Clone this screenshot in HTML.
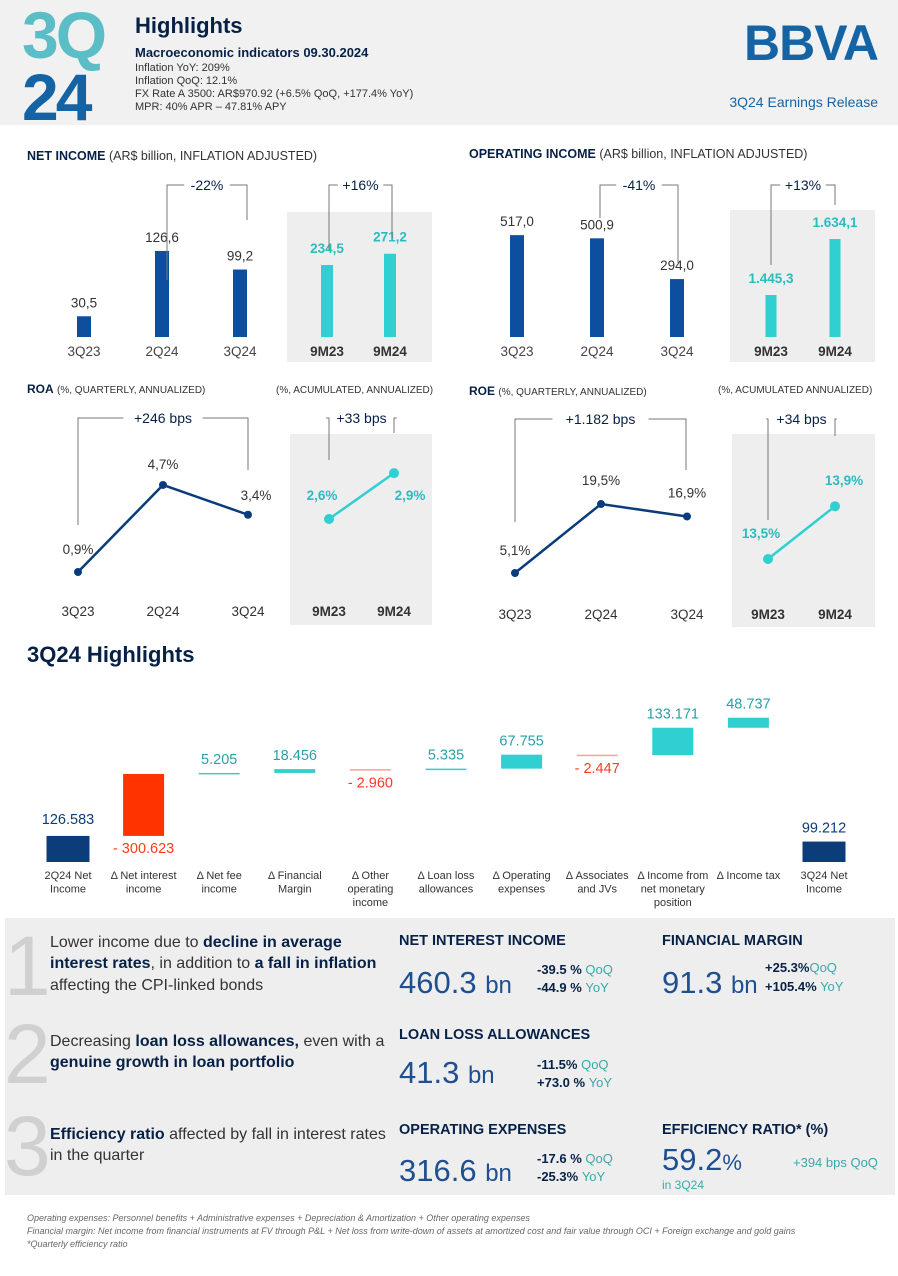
<!DOCTYPE html>
<html><head><meta charset="utf-8"><style>
html,body{margin:0;padding:0;background:#fff}
svg{display:block}
text{font-family:"Liberation Sans Narrow","Liberation Sans",sans-serif}
</style></head><body>
<svg id="page" width="898" height="1276" viewBox="0 0 898 1276">
<rect x="0" y="0" width="898" height="125" fill="#f1f1f1"/>
<text x="22" y="58" font-size="66" font-weight="bold" fill="#5bbec6" font-family="Liberation Sans" letter-spacing="-3">3Q</text>
<text x="22" y="120" font-size="66" font-weight="bold" fill="#1464a5" font-family="Liberation Sans" letter-spacing="-3">24</text>
<text x="135" y="33" font-size="22" font-weight="bold" fill="#072146" font-family="Liberation Sans">Highlights</text>
<text x="135" y="57" font-size="13" font-weight="bold" fill="#072146" font-family="Liberation Sans">Macroeconomic indicators 09.30.2024</text>
<g font-size="11" fill="#333" font-family="Liberation Sans">
<text x="135" y="71">Inflation YoY: 209%</text>
<text x="135" y="84">Inflation QoQ: 12.1%</text>
<text x="135" y="97">FX Rate A 3500: AR$970.92 (+6.5% QoQ, +177.4% YoY)</text>
<text x="135" y="110">MPR: 40% APR – 47.81% APY</text>
</g>
<text x="878" y="60" text-anchor="end" font-size="50" font-weight="bold" fill="#1464a5" font-family="Liberation Sans" letter-spacing="-1">BBVA</text>
<text x="878" y="107" text-anchor="end" font-size="14" fill="#1464a5" font-family="Liberation Sans">3Q24 Earnings Release</text>

<text x="27" y="160" font-size="12.5" fill="#333"><tspan font-weight="bold" fill="#072146">NET INCOME</tspan> (AR$ billion, INFLATION ADJUSTED)</text>
<text x="469" y="158" font-size="12.5" fill="#333"><tspan font-weight="bold" fill="#072146">OPERATING INCOME</tspan> (AR$ billion, INFLATION ADJUSTED)</text>
<text x="27" y="393" font-size="12" fill="#333"><tspan font-weight="bold" fill="#072146">ROA</tspan> <tspan font-size="10">(%, QUARTERLY, ANNUALIZED)</tspan></text>
<text x="276" y="393" font-size="10" fill="#333">(%, ACUMULATED, ANNUALIZED)</text>
<text x="469" y="395" font-size="12" fill="#333"><tspan font-weight="bold" fill="#072146">ROE</tspan> <tspan font-size="10">(%, QUARTERLY, ANNUALIZED)</tspan></text>
<text x="718" y="393" font-size="10" fill="#333">(%, ACUMULATED ANNUALIZED)</text>

<rect x="287" y="212" width="145" height="150" fill="#eeeeee"/>
<rect x="730" y="210" width="145" height="152" fill="#eeeeee"/>
<rect x="290" y="434" width="142" height="191" fill="#eeeeee"/>
<rect x="732" y="434" width="143" height="193" fill="#eeeeee"/>

<g id="charts"></g>

<text x="27" y="662" font-size="22" font-weight="bold" fill="#072146" font-family="Liberation Sans">3Q24 Highlights</text>
<g id="waterfall"></g>

<rect x="5" y="918" width="890" height="277" fill="#eeeeee"/>
<g font-family="Liberation Sans" font-size="84" fill="#d0d0d0" font-weight="normal">
<text x="4" y="995">1</text><text x="4" y="1083">2</text><text x="4" y="1175">3</text>
</g>
<g font-size="16" fill="#333">
<text x="50" y="947">Lower income due to <tspan font-weight="bold" fill="#072146">decline in average</tspan></text>
<text x="50" y="968"><tspan font-weight="bold" fill="#072146">interest rates</tspan>, in addition to <tspan font-weight="bold" fill="#072146">a fall in inflation</tspan></text>
<text x="50" y="990">affecting the CPI-linked bonds</text>
<text x="50" y="1046">Decreasing <tspan font-weight="bold" fill="#072146">loan loss allowances,</tspan> even with a</text>
<text x="50" y="1067"><tspan font-weight="bold" fill="#072146">genuine growth in loan portfolio</tspan></text>
<text x="50" y="1139"><tspan font-weight="bold" fill="#072146">Efficiency ratio</tspan> affected by fall in interest rates</text>
<text x="50" y="1160">in the quarter</text>
</g>
<g font-size="14.5" font-weight="bold" fill="#072146">
<text x="399" y="945">NET INTEREST INCOME</text>
<text x="662" y="945">FINANCIAL MARGIN</text>
<text x="399" y="1039">LOAN LOSS ALLOWANCES</text>
<text x="399" y="1134">OPERATING EXPENSES</text>
<text x="662" y="1134">EFFICIENCY RATIO* (%)</text>
</g>
<g font-size="31" fill="#1d4f91">
<text x="399" y="993">460.3 <tspan font-size="24">bn</tspan></text>
<text x="662" y="993">91.3 <tspan font-size="24">bn</tspan></text>
<text x="399" y="1083">41.3 <tspan font-size="24">bn</tspan></text>
<text x="399" y="1181">316.6 <tspan font-size="24">bn</tspan></text>
<text x="662" y="1170">59.2<tspan font-size="22">%</tspan></text>
</g>
<g font-size="13" font-weight="bold" fill="#072146">
<text x="537" y="974">-39.5 % <tspan font-weight="normal" fill="#3aa8a8">QoQ</tspan></text>
<text x="537" y="992">-44.9 % <tspan font-weight="normal" fill="#3aa8a8"> YoY</tspan></text>
<text x="765" y="972">+25.3%<tspan font-weight="normal" fill="#3aa8a8">QoQ</tspan></text>
<text x="765" y="991">+105.4%<tspan font-weight="normal" fill="#3aa8a8"> YoY</tspan></text>
<text x="537" y="1069">-11.5% <tspan font-weight="normal" fill="#3aa8a8"> QoQ</tspan></text>
<text x="537" y="1087">+73.0 % <tspan font-weight="normal" fill="#3aa8a8">YoY</tspan></text>
<text x="537" y="1163">-17.6 % <tspan font-weight="normal" fill="#3aa8a8">QoQ</tspan></text>
<text x="537" y="1181">-25.3% <tspan font-weight="normal" fill="#3aa8a8"> YoY</tspan></text>
<text x="793" y="1167" font-weight="normal" fill="#3aa8a8">+394 bps QoQ</text>
<text x="662" y="1189" font-weight="normal" fill="#3aa8a8" font-size="12">in 3Q24</text>
</g>
<g font-size="9" font-style="italic" fill="#666">
<text x="27" y="1221">Operating expenses: Personnel benefits + Administrative expenses + Depreciation &amp; Amortization + Other operating expenses</text>
<text x="27" y="1234">Financial margin: Net income from financial instruments at FV through P&amp;L + Net loss from write-down of assets at amortized cost and fair value through OCI + Foreign exchange and gold gains</text>
<text x="27" y="1247">*Quarterly efficiency ratio</text>
</g>
</svg>
<script>
// ---- data ----
var qCats = ["3Q23","2Q24","3Q24"];
var mCats = ["9M23","9M24"];
var niQ = [30.5, 126.6, 99.2];
var niQLabels = ["30,5","126,6","99,2"];
var niM = [234.5, 271.2];
var niMLabels = ["234,5","271,2"];
var oiQ = [517.0, 500.9, 294.0];
var oiQLabels = ["517,0","500,9","294,0"];
var oiM = [1445.3, 1634.1];
var oiMLabels = ["1.445,3","1.634,1"];
var roaQ = [0.9, 4.7, 3.4];
var roaQLabels = ["0,9%","4,7%","3,4%"];
var roaM = [2.6, 2.9];
var roaMLabels = ["2,6%","2,9%"];
var roeQ = [5.1, 19.5, 16.9];
var roeQLabels = ["5,1%","19,5%","16,9%"];
var roeM = [13.5, 13.9];
var roeMLabels = ["13,5%","13,9%"];
var wfCats = [["2Q24 Net","Income"],["Δ Net interest","income"],["Δ Net fee","income"],["Δ Financial","Margin"],["Δ Other","operating","income"],["Δ Loan loss","allowances"],["Δ Operating","expenses"],["Δ Associates","and JVs"],["Δ Income from","net monetary","position"],["Δ Income tax"],["3Q24 Net","Income"]];
var wfVals = [126.583, -300.623, 5.205, 18.456, -2.960, 5.335, 67.755, -2.447, 133.171, 48.737, 99.212];
var wfLabels = ["126.583","- 300.623","5.205","18.456","- 2.960","5.335","67.755","- 2.447","133.171","48.737","99.212"];

var NS = "http://www.w3.org/2000/svg";
function mk(parent, tag, attrs, txt){
  var e = document.createElementNS(NS, tag);
  for (var k in attrs) e.setAttribute(k, attrs[k]);
  if (txt !== undefined) e.textContent = txt;
  parent.appendChild(e); return e;
}
var G = document.getElementById("charts");
var DARK = "#0d4e9e", TEAL = "#2fcfd2";

function bars(vals, labels, cats, x0, step, base, scale, offset, w, color, bold, prefix, labelDy){
  for (var i=0;i<vals.length;i++){
    var cx = x0 + i*step;
    var h = (vals[i]-offset)*scale;
    var r = mk(G,"rect",{x:cx-w/2,y:base-h,width:w,height:h,fill:color});
    
    
    var t = mk(G,"text",{x:cx,y:base-h-labelDy,"text-anchor":"middle","font-size":"13.5",fill:bold?"#2bbcc0":"#333","font-weight":bold?"bold":"normal"}, labels[i]);
    
    
    var c = mk(G,"text",{x:cx,y:base+19,"text-anchor":"middle","font-size":"13.5",fill:bold?"#333":"#444","font-weight":bold?"bold":"normal"}, cats[i]);
    
    
  }
}
function line(vals, labels, cats, x0, step, base, scale, offset, color, prefix, labelDx, labelDy, bold, axisY){
  var pts = [];
  for (var i=0;i<vals.length;i++) pts.push([x0+i*step, base-(vals[i]-offset)*scale]);
  var p = mk(G,"polyline",{points:pts.map(function(q){return q.join(",");}).join(" "),fill:"none",stroke:color,"stroke-width":2.5});
  
  
  for (var i=0;i<vals.length;i++){
    var d = mk(G,"circle",{cx:pts[i][0],cy:pts[i][1],r:bold?5:4,fill:color});
    
    
    var t = mk(G,"text",{x:pts[i][0]+labelDx[i],y:pts[i][1]+labelDy[i],"text-anchor":"middle","font-size":"13.5",fill:bold?"#2bbcc0":"#333","font-weight":bold?"bold":"normal"}, labels[i]);
    
    
    var c = mk(G,"text",{x:pts[i][0],y:axisY,"text-anchor":"middle","font-size":"13.5",fill:"#333","font-weight":bold?"bold":"normal"}, cats[i]);
    
    
  }
}
function bracket(x1, y1b, x2, y2b, y, label, name){
  var g = mk(G,"g",{stroke:"#777","stroke-width":1,fill:"none"});
  
  
  var mid=(x1+x2)/2, half=label.length*4.2+6;
  mk(g,"polyline",{points:x1+","+y1b+" "+x1+","+y+" "+(mid-half)+","+y});
  mk(g,"polyline",{points:(mid+half)+","+y+" "+x2+","+y+" "+x2+","+y2b});
  var t = mk(G,"text",{x:mid,y:y+5,"text-anchor":"middle","font-size":"14",fill:"#072146"}, label);
  
  
}

bars(niQ, niQLabels, qCats, 84, 78, 337, 0.68, 0, 14, DARK, false, "ni", 9);
bars(niM, niMLabels, mCats, 327, 63, 337, 0.307, 0, 12, TEAL, true, "ni9m", 12);
bracket(167,280,247,220,185,"-22%","ni-bracket");
bracket(329,250,392,238,185,"+16%","ni9m-bracket");

bars(oiQ, oiQLabels, qCats, 517, 80, 337, 0.197, 0, 14, DARK, false, "oi", 9);
bars(oiM, oiMLabels, mCats, 771, 64, 337, 0.2966, 1303.7, 11, TEAL, true, "oi9m", 12);
bracket(600,218,678,263,185,"-41%","oi-bracket");
bracket(771,265,835,205,185,"+13%","oi9m-bracket");

line(roaQ, roaQLabels, qCats, 78, 85, 572, 22.9, 0.9, "#0a3c7c", "roa", [0,0,8], [-18,-16,-15], false, 616);
line(roaM, roaMLabels, mCats, 329, 65, 519, 153, 2.6, TEAL, "roa9m", [-7,16], [-19,27], true, 616);
bracket(78,525,248,470,418,"+246 bps","roa-bracket");
bracket(329,460,394,433,418,"+33 bps","roa9m-bracket");

line(roeQ, roeQLabels, qCats, 515, 86, 573, 4.79, 5.1, "#0a3c7c", "roe", [0,0,0], [-18,-19,-19], false, 619);
line(roeM, roeMLabels, mCats, 768, 67, 559, 132, 13.5, TEAL, "roe9m", [-7,9], [-21,-21], true, 619);
bracket(515,522,686,470,419,"+1.182 bps","roe-bracket");
bracket(768,520,835,436,419,"+34 bps","roe9m-bracket");

// ---- waterfall ----
var W = document.getElementById("waterfall");
var wfBase = 862, wfScale = 0.206, wfX0 = 68, wfStep = 75.6, wfW = 43;
var wfLevel = 0;
for (var i=0;i<wfVals.length;i++){
  var cx = wfX0 + i*wfStep, v = wfVals[i], barTop, barBot, col;
  var isLast = (i===wfVals.length-1);
  if (i===0 || isLast){ barBot = wfBase; barTop = wfBase - v*wfScale; col = "#0c3d7a"; if(i===0) wfLevel = v; }
  else {
    var stepV = (i===1) ? Math.abs(v) : v;
    var y1 = wfBase - wfLevel*wfScale, y2 = wfBase - (wfLevel+stepV)*wfScale;
    barTop = Math.min(y1,y2); barBot = Math.max(y1,y2);
    wfLevel += stepV;
    col = v<0 ? (i===1 ? "#ff3300" : "#f4a0a0") : "#2fcfd2";
  }
  var bh = Math.max(barBot-barTop, 1.5);
  var inner = (i>0 && !isLast);
  var r = mk(W,"rect",{x:cx-wfW/2+(inner?1:0),y:barTop,width:wfW-(inner?2:0),height:bh,fill:col});
  
  
  var neg = v<0;
  var ty = neg ? barTop+bh+17 : barTop-9;
  if (i===0) ty = barTop-12;
  var t = mk(W,"text",{x:cx,y:ty,"text-anchor":"middle","font-size":"14.5",fill: neg?"#ff3b1a":(i===0||isLast?"#0c3d7a":"#2a9fa6")}, wfLabels[i]);
  
  
  var lines = wfCats[i];
  for (var j=0;j<lines.length;j++){
    var c = mk(W,"text",{x:cx,y:879+j*13.5,"text-anchor":"middle","font-size":"11",fill:"#333"}, lines[j]);
    
    
  }
}
</script>
</body></html>
